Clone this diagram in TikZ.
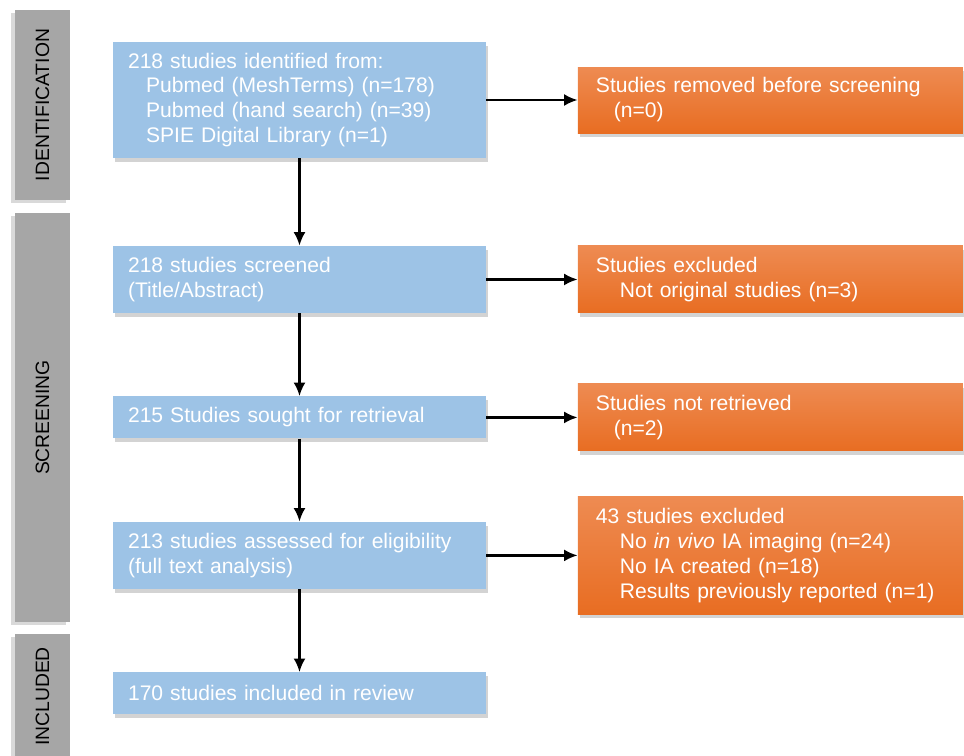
\documentclass[tikz,border=0pt]{standalone}
\usepackage{fontspec}
\setmainfont{Liberation Sans}
\usetikzlibrary{shapes,arrows,arrows.meta,shadows,positioning}
\definecolor{recblue}{HTML}{9DC3E6}
\definecolor{exctop}{HTML}{EE8B52}
\definecolor{excbot}{HTML}{E86D22}
\definecolor{stagegray}{HTML}{A6A6A6}

\begin{document}
\begin{tikzpicture}[x=0.02cm, y=-0.02cm, node distance=2.76cm, >={Latex[length=0.27cm,width=0.24cm]}]
			\tikzset{
				stage/.style={rectangle, rotate=90, fill=stagegray, minimum height=1.1cm, font=\fontsize{11}{13}\selectfont, text=black, drop shadow={opacity=0.3, shadow xshift=-0.4ex, shadow yshift=-0.3ex}},
				record/.style={rectangle, fill=recblue, minimum width=7.46cm, text width=6.86cm, inner xsep=0.3cm, inner ysep=2pt, align=left, text=white, font=\fontsize{12}{14.2}\selectfont, drop shadow={opacity=0.35, shadow xshift=0.2ex, shadow yshift=-0.4ex}},
				excluded/.style={rectangle, top color=exctop, bottom color=excbot, minimum width=7.7cm, text width=6.98cm, inner xsep=0.36cm, inner ysep=2pt, align=left, text=white, font=\fontsize{12}{14.2}\selectfont, drop shadow={opacity=0.35, shadow xshift=0.2ex, shadow yshift=-0.4ex}},
				arrow/.style={line width=1.3pt,->},
			}
			\useasboundingbox (0,0) rectangle (964,755);
			% phases
			\node[stage, minimum width=3.8cm] (identification) at (42.5,105) {IDENTIFICATION};
			\node[stage, minimum width=8.18cm] (screening) at (42.5,417.5) {SCREENING};
			\node[stage, minimum width=2.5cm] (included) at (42.5,696.5) {INCLUDED};
			% main flow
			\node[record, minimum height=2.32cm] (identified) at (299.5,100) {218 studies identified from:\\\hspace*{0.36cm}Pubmed (MeshTerms) (n=178)\\\hspace*{0.36cm}Pubmed (hand search) (n=39)\\\hspace*{0.36cm}SPIE Digital Library (n=1)};
			\node[record, minimum height=1.34cm, below of=identified, yshift=-0.83cm] (screened) {218 studies screened\\(Title/Abstract)};
			\node[record, minimum height=0.84cm, below of=screened] (sought) {215 Studies sought for retrieval};
			\node[record, minimum height=1.34cm, below of=sought] (assessed) {213 studies assessed for eligibility\\(full text analysis)};
			\node[record, minimum height=0.84cm, below of=assessed] (review) {170 studies included in review};
			% exclusions
			\node[excluded, minimum height=1.32cm, right of=identified, node distance=9.42cm] (removed) {Studies removed before screening\\\hspace*{0.36cm}(n=0)};
			\node[excluded, minimum height=1.34cm, right of=screened, node distance=9.42cm] (notorig) {Studies excluded\\\hspace*{0.48cm}Not original studies (n=3)};
			\node[excluded, minimum height=1.34cm, right of=sought, node distance=9.42cm] (notretr) {Studies not retrieved\\\hspace*{0.36cm}(n=2)};
			\node[excluded, minimum height=2.36cm, right of=assessed, node distance=9.42cm] (ineligible) {43 studies excluded\\\hspace*{0.48cm}No \textit{in vivo} IA imaging (n=24)\\\hspace*{0.48cm}No IA created (n=18)\\\hspace*{0.48cm}Results previously reported (n=1)};
			%Draw arrows
			\draw[arrow] (identified) -- (screened);
			\draw[arrow] (screened) -- (sought);
			\draw[arrow] (sought) -- (assessed);
			\draw[arrow] (assessed) -- (review);
			\draw[arrow] (identified) -- (removed);
			\draw[arrow] (screened) -- (notorig);
			\draw[arrow] (sought) -- (notretr);
			\draw[arrow] (assessed) -- (ineligible);
		\end{tikzpicture}
\end{document}
